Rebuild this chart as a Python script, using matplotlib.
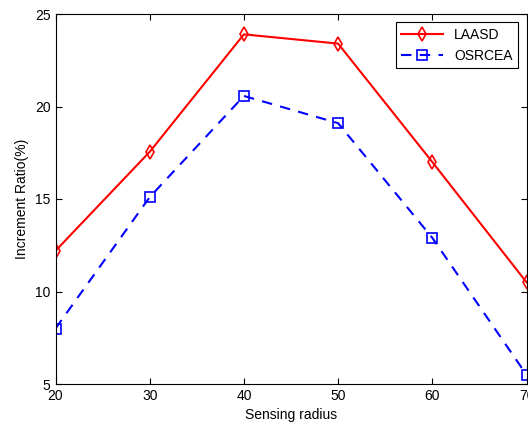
import matplotlib
matplotlib.use('Agg')
import matplotlib.pyplot as plt

# --- DATA ---
radius = [20, 30, 40, 50, 60, 70]
laasd = [12.2, 17.55, 23.9, 23.4, 17.0, 10.5]
osrcea = [8.0, 15.1, 20.57, 19.1, 12.9, 5.5]

plt.rcParams['font.family'] = ['Liberation Sans', 'DejaVu Sans']

fig = plt.figure(figsize=(5.28, 4.25), dpi=100)
ax = fig.add_axes([55.5 / 528, 1 - 384 / 425, 471 / 528, 370 / 425])

ax.plot(radius, laasd, color='red', linestyle='-', linewidth=1.5,
        marker='d', markersize=7, markerfacecolor='none', markeredgecolor='red',
        markeredgewidth=1.2, label='LAASD')
ax.plot(radius, osrcea, color='blue', linestyle=(0, (5, 4)), linewidth=1.5,
        marker='s', markersize=7, markerfacecolor='none', markeredgecolor='blue',
        markeredgewidth=1.2, label='OSRCEA')

ax.set_xlim(20, 70)
ax.set_ylim(5, 25)
ax.set_xticks(radius)
ax.set_yticks([5, 10, 15, 20, 25])
ax.tick_params(direction='in', top=True, right=True, labelsize=10, length=4)
for s in ax.spines.values():
    s.set_linewidth(0.8)

ax.set_xlabel('Sensing radius', fontsize=10)
ax.set_ylabel('Increment Ratio(%)', fontsize=10)

leg = ax.legend(loc='upper right', fontsize=10, fancybox=False, framealpha=1,
                edgecolor='black', handlelength=3, borderaxespad=0.6)
leg.get_frame().set_linewidth(0.8)

fig.savefig('out.png', dpi=100)
